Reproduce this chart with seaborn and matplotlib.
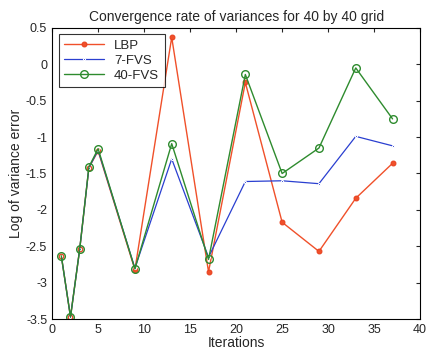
import pandas as pd
import numpy as np
import matplotlib.pyplot as plt
import seaborn as sns

# data
iteracoes = [1, 2, 3, 4, 5, 9, 13, 17, 21, 25, 29, 33, 37]
lbp = [-2.63, -3.47, -2.54, -1.42, -1.19, -2.82, 0.37, -2.85, -0.25, -2.17, -2.57, -1.84, -1.36]
fvs7 = [-2.63, -3.47, -2.54, -1.42, -1.18, -2.80, -1.30, -2.65, -1.61, -1.60, -1.64, -0.99, -1.12]
fvs40 = [-2.63, -3.47, -2.54, -1.41, -1.16, -2.81, -1.09, -2.68, -0.14, -1.50, -1.15, -0.05, -0.75]

sns.set_style("white")
plt.rcParams['font.family'] = ['Liberation Sans', 'DejaVu Sans']

fig = plt.figure(figsize=(4.27, 3.53), dpi=100)
ax = fig.add_axes([0.122, 0.096, 0.862, 0.825])

sns.lineplot(x=iteracoes, y=lbp, ax=ax, color='#f0502a', marker='o', markersize=3.5,
             markeredgecolor='#e8401e', linewidth=1.0, label='LBP')
sns.lineplot(x=iteracoes, y=fvs7, ax=ax, color='#2a3fd0', marker='.', markersize=3,
             linewidth=0.9, label='7-FVS')
sns.lineplot(x=iteracoes, y=fvs40, ax=ax, color='#2e8b2e', marker='o', markersize=5.5,
             markerfacecolor='none', markeredgecolor='#2e8b2e', markeredgewidth=1.0,
             linewidth=1.0, label='40-FVS')

ax.set_xlim(0, 40)
ax.set_ylim(-3.5, 0.5)
ax.set_xticks(np.arange(0, 41, 5))
ax.set_yticks(np.arange(-3.5, 0.51, 0.5))
ax.set_yticklabels(['-3.5', '-3', '-2.5', '-2', '-1.5', '-1', '-0.5', '0', '0.5'])
ax.tick_params(direction='in', top=True, right=True, labelsize=9, length=3, width=0.8)
for s in ax.spines.values():
    s.set_color('black')
    s.set_linewidth(0.8)

ax.set_title("Convergence rate of variances for 40 by 40 grid", fontsize=10, pad=5)
ax.set_xlabel("Iterations", fontsize=10, labelpad=0)
ax.set_ylabel("Log of variance error", fontsize=10, labelpad=2)

leg = ax.legend(loc='upper left', fontsize=9.5, frameon=True, fancybox=False,
                edgecolor='black', borderpad=0.4, handlelength=3, labelspacing=0.2)
leg.get_frame().set_linewidth(0.8)

plt.savefig("out.png", dpi=100)
